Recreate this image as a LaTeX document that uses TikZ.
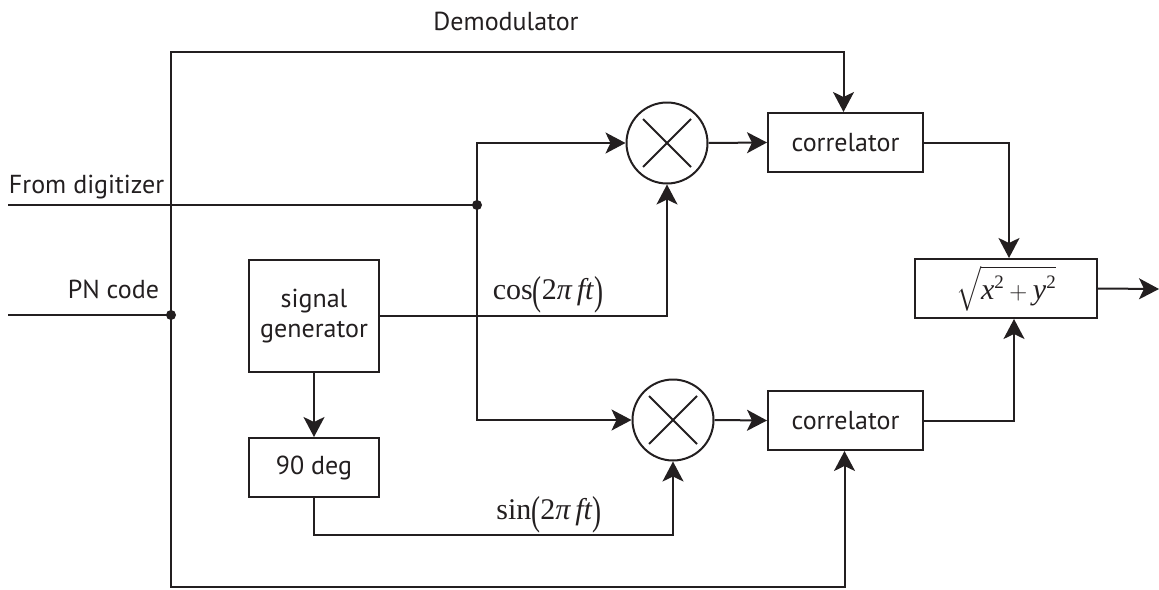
\documentclass[tikz,border=0pt]{standalone}
\usepackage{amsmath}
\usepackage{graphicx}
\usepackage{fontspec}
\setmainfont{PT Sans}
\newfontfamily\tms{Liberation Serif}
\usetikzlibrary{arrows.meta}
\definecolor{ink}{RGB}{35,31,32}
\newcommand\mtxt{\tms\fontsize{30}{34}\selectfont}
\newcommand\sptwo{\raisebox{11pt}{\tms\fontsize{19}{19}\selectfont 2}}
\newcommand\tallpar[1]{\raisebox{-5pt}{\scalebox{0.9}[1.35]{#1}}}
\begin{document}
\begin{tikzpicture}[x=1pt,y=-1pt,line width=2pt,color=ink,
  lbl/.style={font=\fontsize{26}{32}\selectfont, inner sep=0pt},
  blk/.style={draw, line width=2pt, font=\fontsize{26}{32}\selectfont, align=center, inner sep=0pt},
  mult/.style={draw, circle, minimum size=81pt, inner sep=0pt},
  arr/.style={-{Stealth[length=20pt,width=21pt,inset=5pt]}},
  jdot/.style={circle, fill, inner sep=0pt, minimum size=10pt}]
\useasboundingbox (0,0) rectangle (1159,589);
% labels
\node[lbl] (dem) at (506,21) {Demodulator};
\node[lbl, anchor=base west] (fdl) at (8,193) {From digitizer};
\node[lbl, anchor=base east] (pnl) at (160,298) {PN code};
% blocks
\node[blk, minimum width=130pt, minimum height=112pt] (sg) at (314,316) {signal\\[-2pt]generator};
\node[blk, minimum width=130pt, minimum height=59pt] (deg) at (314,467.5) {90 deg};
\node[mult] (m1) at (667,143) {};
\node[mult] (m2) at (673,420) {};
\node[blk, minimum width=155pt, minimum height=59pt] (c1) at (845.5,142.5) {correlator};
\node[blk, minimum width=155pt, minimum height=59pt] (c2) at (845.5,420.5) {correlator};
\node[blk, minimum width=182pt, minimum height=59pt, font=\fontsize{30}{34}\selectfont] (sq) at (1006,288.5)
  {$\sqrt{\rule[-5pt]{0pt}{30pt}\hbox{\mtxt\itshape x}\hbox{\sptwo}+\hbox{\mtxt\itshape y}\hbox{\sptwo}}$};
% crosses
\draw ([shift={(-24,-24)}]m1.center) -- ([shift={(24,24)}]m1.center);
\draw ([shift={(-24,24)}]m1.center) -- ([shift={(24,-24)}]m1.center);
\draw ([shift={(-24,-24)}]m2.center) -- ([shift={(24,24)}]m2.center);
\draw ([shift={(-24,24)}]m2.center) -- ([shift={(24,-24)}]m2.center);
% junctions and ends
\coordinate (in1) at (8,205);
\coordinate (in2) at (8,315);
\node[jdot] (d1) at (477,205) {};
\node[jdot] (d2) at (171,315) {};
\coordinate (top) at (171,52);
\coordinate (bot) at (171,587);
\coordinate (s1) at (314,535);
\coordinate (out) at (1159,289);
% connectors
\draw (in1) -- (d1.center);
\draw (in2) -- (d2.center);
\draw[arr] (d1.center) |- (m1.west);
\draw[arr] (d1.center) |- (m2.west);
\draw[arr] (d2.center) -- (top) -| ([xshift=-2]c1.north);
\draw[arr] (d2.center) -- (bot) -| ([xshift=-1]c2.south);
\draw[arr] (sg.east) -| (m1.south);
\draw[arr] (sg.south) -- (deg.north);
\draw[arr] (deg.south) -- (s1) -| (m2.south);
\draw[arr] (m1.east) -- (c1.west);
\draw[arr] (m2.east) -- (c2.west);
\draw[arr] (c1.east) -| ([xshift=3]sq.north);
\draw[arr] (c2.east) -| ([xshift=8]sq.south);
\draw[arr] (sq.east) -- (out);
% signal labels
\node[inner sep=0pt] (cosl) at (548,295) {\mtxt cos\tallpar{(}2\textit{π\,ft}\tallpar{)}};
\node[inner sep=0pt] (sinl) at (549,515) {\mtxt sin\tallpar{(}2\textit{π\,ft}\tallpar{)}};
\end{tikzpicture}
\end{document}
